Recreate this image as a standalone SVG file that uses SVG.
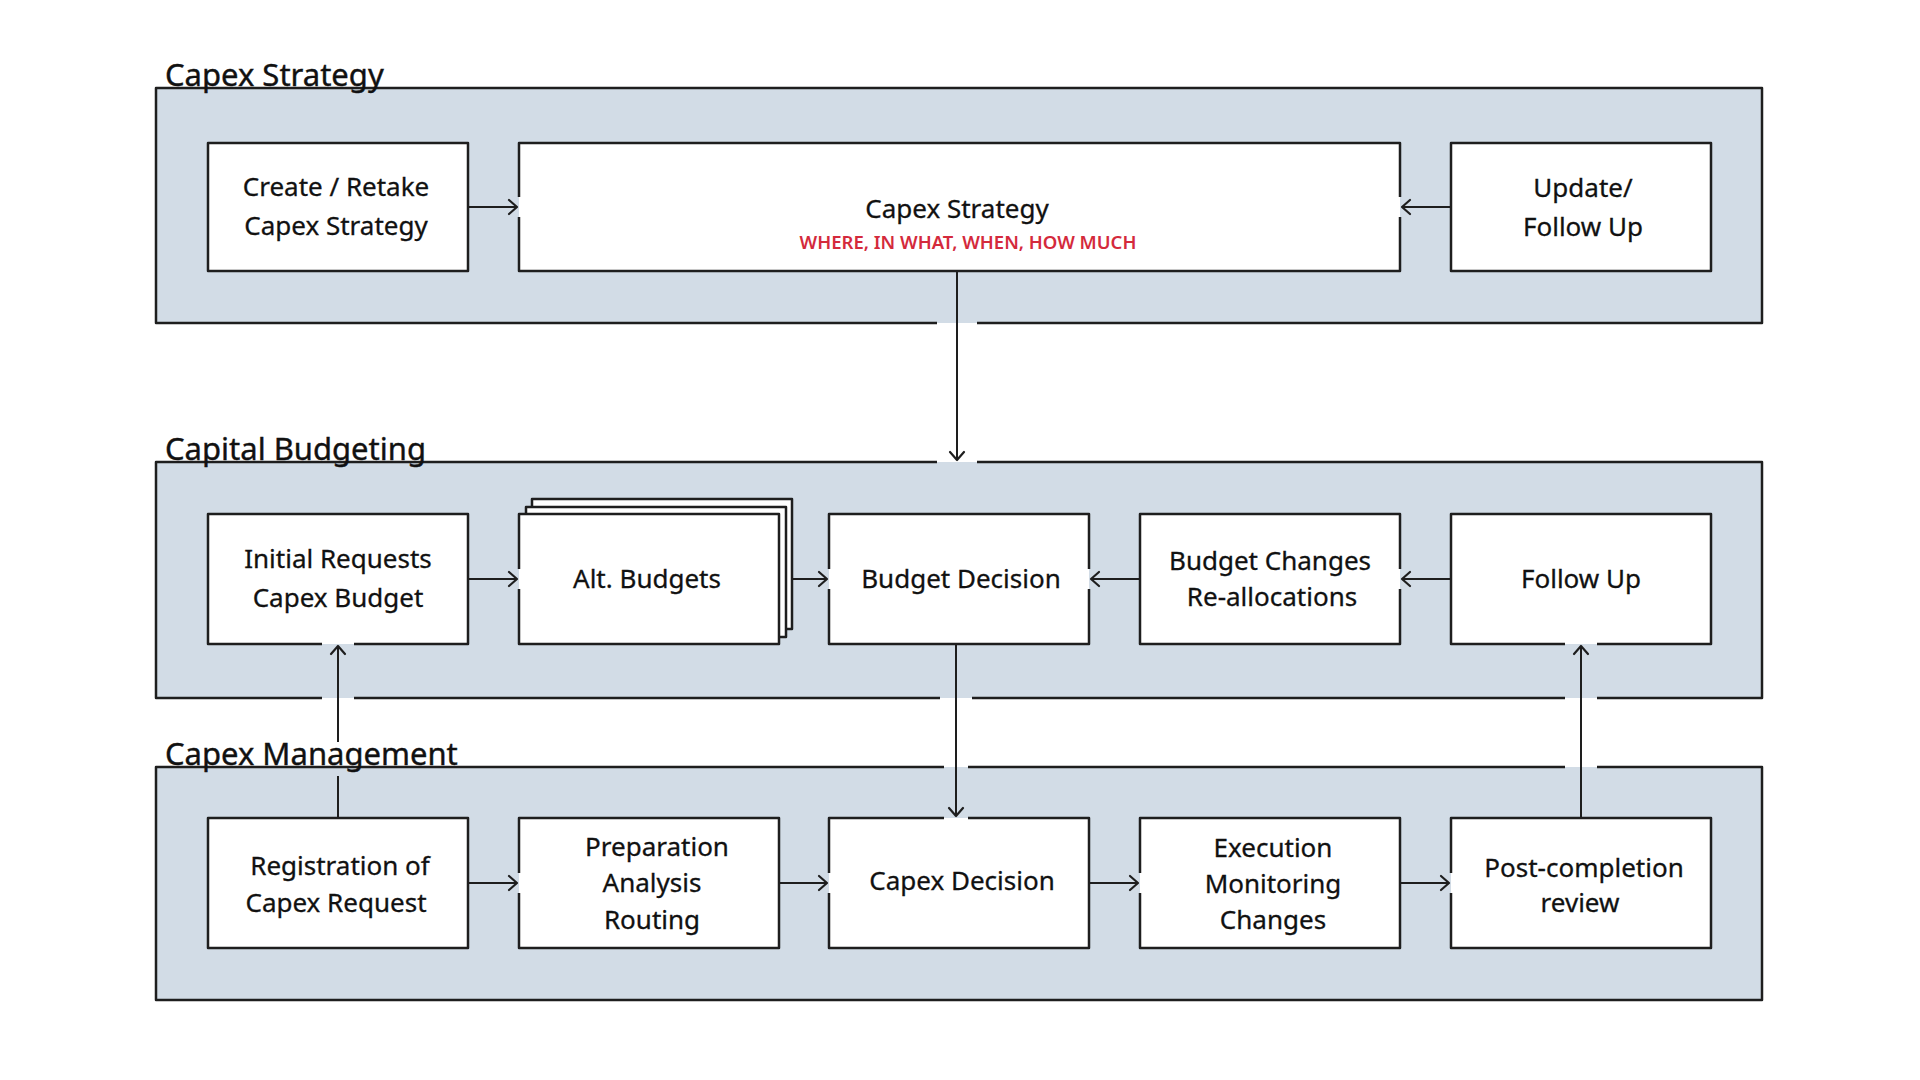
<svg xmlns="http://www.w3.org/2000/svg" width="1920" height="1080" viewBox="0 0 1920 1080">
<defs>
<style>
.cfill{fill:#d2dce6;stroke:none}
.cborder{fill:none;stroke:#1e1e1e;stroke-width:2.5;stroke-linejoin:round}
.bfill{fill:#ffffff;stroke:none}
.bborder{fill:none;stroke:#1e1e1e;stroke-width:2.5;stroke-linejoin:round}
.title{font-family:"Noto Sans","Liberation Sans",sans-serif;font-size:31px;fill:#111;stroke:#111;stroke-width:0.4}
.lbl{font-family:"Noto Sans","Liberation Sans",sans-serif;font-size:26px;fill:#111;text-anchor:middle;stroke:#111;stroke-width:0.3}
.red{font-family:"Noto Sans","Liberation Sans",sans-serif;font-size:18.5px;fill:#d42a3c;text-anchor:middle;font-weight:600}
.conn{fill:none;stroke:#1e1e1e;stroke-width:2}
</style>
<marker id="arr" markerUnits="userSpaceOnUse" markerWidth="20" markerHeight="20" viewBox="-10 -10 20 20" refX="0" refY="0" orient="auto">
<path d="M-8,-7 L0,0 L-8,7" fill="none" stroke="#1e1e1e" stroke-width="2.2" stroke-linecap="round" stroke-linejoin="round"/>
</marker>
</defs>
<rect width="1920" height="1080" fill="#ffffff"/>

<!-- Containers -->
<g id="container-strategy">
<rect class="cfill" x="156" y="88" width="1606" height="235"/>
<path class="cborder" d="M937,323 H156 V88 H1762 V323 H977"/>
<text class="title" x="165" y="86">Capex Strategy</text>
</g>
<g id="container-budgeting">
<rect class="cfill" x="156" y="462" width="1606" height="236"/>
<path class="cborder" d="M937,462 H156 V698 H322 M354,698 H940 M972,698 H1565 M1597,698 H1762 V462 H977"/>
<text class="title" x="165" y="460">Capital Budgeting</text>
</g>
<g id="container-management">
<rect class="cfill" x="156" y="767" width="1606" height="233"/>
<path class="cborder" d="M944,767 H156 V1000 H1762 V767 H1597 M1565,767 H968"/>
<text class="title" x="165" y="765">Capex Management</text>
</g>

<!-- Row 1 -->
<g id="node-create">
<rect class="bfill" x="208" y="143" width="260" height="128"/>
<rect class="bborder" x="208" y="143" width="260" height="128"/>
<text class="lbl" x="336" y="196">Create / Retake</text>
<text class="lbl" x="336" y="235">Capex Strategy</text>
</g>
<g id="node-strategy">
<rect class="bfill" x="519" y="143" width="881" height="128"/>
<path class="bborder" d="M519,197 V143 H1400 V197 M1400,217 V271 H519 V217"/>
<text class="lbl" x="957" y="218">Capex Strategy</text>
<text class="red" x="968" y="249">WHERE, IN WHAT, WHEN, HOW MUCH</text>
</g>
<g id="node-update">
<rect class="bfill" x="1451" y="143" width="260" height="128"/>
<rect class="bborder" x="1451" y="143" width="260" height="128"/>
<text class="lbl" x="1583" y="197">Update/</text>
<text class="lbl" x="1583" y="236">Follow Up</text>
</g>

<!-- Row 2 -->
<g id="node-initial">
<rect class="bfill" x="208" y="514" width="260" height="130"/>
<path class="bborder" d="M322,644 H208 V514 H468 V644 H354"/>
<text class="lbl" x="338" y="568">Initial Requests</text>
<text class="lbl" x="338" y="607">Capex Budget</text>
</g>
<g id="node-alt">
<rect class="bfill" x="532" y="499" width="260" height="130"/>
<rect class="bborder" x="532" y="499" width="260" height="130"/>
<rect class="bfill" x="526" y="507" width="260" height="130"/>
<rect class="bborder" x="526" y="507" width="260" height="130"/>
<rect class="bfill" x="519" y="514" width="260" height="130"/>
<path class="bborder" d="M519,569 V514 H779 V644 H519 V589"/>
<text class="lbl" x="647" y="588">Alt. Budgets</text>
</g>
<g id="node-budget-decision">
<rect class="bfill" x="829" y="514" width="260" height="130"/>
<path class="bborder" d="M829,569 V514 H1089 V569 M1089,589 V644 H829 V589"/>
<text class="lbl" x="961" y="588">Budget Decision</text>
</g>
<g id="node-budget-changes">
<rect class="bfill" x="1140" y="514" width="260" height="130"/>
<path class="bborder" d="M1400,569 V514 H1140 V644 H1400 V589"/>
<text class="lbl" x="1270" y="570">Budget Changes</text>
<text class="lbl" x="1272" y="606">Re-allocations</text>
</g>
<g id="node-follow-up">
<rect class="bfill" x="1451" y="514" width="260" height="130"/>
<path class="bborder" d="M1565,644 H1451 V514 H1711 V644 H1597"/>
<text class="lbl" x="1581" y="588">Follow Up</text>
</g>

<!-- Row 3 -->
<g id="node-registration">
<rect class="bfill" x="208" y="818" width="260" height="130"/>
<rect class="bborder" x="208" y="818" width="260" height="130"/>
<text class="lbl" x="340" y="875">Registration of</text>
<text class="lbl" x="336" y="912">Capex Request</text>
</g>
<g id="node-preparation">
<rect class="bfill" x="519" y="818" width="260" height="130"/>
<path class="bborder" d="M519,873 V818 H779 V948 H519 V893"/>
<text class="lbl" x="657" y="856">Preparation</text>
<text class="lbl" x="652" y="892">Analysis</text>
<text class="lbl" x="652" y="929">Routing</text>
</g>
<g id="node-capex-decision">
<rect class="bfill" x="829" y="818" width="260" height="130"/>
<path class="bborder" d="M829,873 V818 H944 M968,818 H1089 V948 H829 V893"/>
<text class="lbl" x="962" y="890">Capex Decision</text>
</g>
<g id="node-execution">
<rect class="bfill" x="1140" y="818" width="260" height="130"/>
<path class="bborder" d="M1140,873 V818 H1400 V948 H1140 V893"/>
<text class="lbl" x="1273" y="857">Execution</text>
<text class="lbl" x="1273" y="893">Monitoring</text>
<text class="lbl" x="1273" y="929">Changes</text>
</g>
<g id="node-post">
<rect class="bfill" x="1451" y="818" width="260" height="130"/>
<path class="bborder" d="M1451,873 V818 H1711 V948 H1451 V893"/>
<text class="lbl" x="1584" y="877">Post-completion</text>
<text class="lbl" x="1580" y="912">review</text>
</g>

<!-- Connectors -->
<g id="connectors">
<path class="conn" d="M468,207 H517" marker-end="url(#arr)"/>
<path class="conn" d="M1451,207 H1402" marker-end="url(#arr)"/>
<path class="conn" d="M957,271 V460" marker-end="url(#arr)"/>
<path class="conn" d="M468,579 H517" marker-end="url(#arr)"/>
<path class="conn" d="M792,579 H827" marker-end="url(#arr)"/>
<path class="conn" d="M1140,579 H1091" marker-end="url(#arr)"/>
<path class="conn" d="M1451,579 H1402" marker-end="url(#arr)"/>
<path class="conn" d="M956,644 V816" marker-end="url(#arr)"/>
<path class="conn" d="M338,818 V776"/>
<path class="conn" d="M338,742 V646" marker-end="url(#arr)"/>
<path class="conn" d="M1581,818 V646" marker-end="url(#arr)"/>
<path class="conn" d="M468,883 H517" marker-end="url(#arr)"/>
<path class="conn" d="M779,883 H827" marker-end="url(#arr)"/>
<path class="conn" d="M1089,883 H1138" marker-end="url(#arr)"/>
<path class="conn" d="M1400,883 H1449" marker-end="url(#arr)"/>
</g>
</svg>
